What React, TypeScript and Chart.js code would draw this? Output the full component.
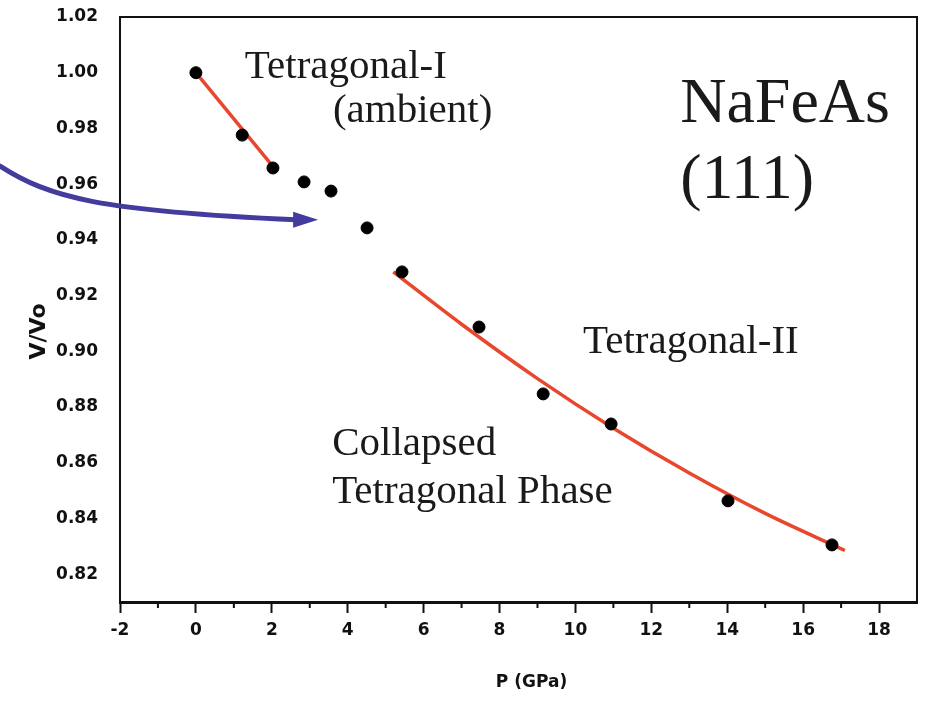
import React, { useEffect, useRef } from "react";
import { Chart, registerables } from "chart.js";
Chart.register(...registerables);

// Measured P-V points
const pressure = [0, 1.22, 2.03, 2.85, 3.56, 4.51, 5.43, 7.46, 9.15, 10.94, 14.02, 16.76];
const volume = [1.0, 0.9776, 0.9658, 0.9608, 0.9575, 0.9443, 0.9285, 0.9087, 0.8847, 0.8739, 0.8463, 0.8305];

// Fit for Tetragonal-I
const fitIP = [0, 2.0];
const fitIV = [1.0, 0.9668];

// Fit for collapsed tetragonal phase
const fitIIP = [5.2, 7, 9, 11, 13, 15, 17.1];
const fitIIV = [0.9285, 0.9097, 0.8902, 0.8724, 0.8563, 0.8418, 0.8285];

// Axis ticks
const xMajorTicks = [-2, 0, 2, 4, 6, 8, 10, 12, 14, 16, 18];
const xMinorTicks = [-1, 1, 3, 5, 7, 9, 11, 13, 15, 17];
const yTickLabels = ["0.82", "0.84", "0.86", "0.88", "0.90", "0.92", "0.94", "0.96", "0.98", "1.00", "1.02"];

// Text annotations (data coordinates, left/baseline)
const noteTexts = ["Tetragonal-I", "(ambient)", "NaFeAs", "(111)", "Tetragonal-II", "Collapsed", "Tetragonal Phase"];
const noteX = [1.29, 3.61, 12.76, 12.76, 10.2, 3.59, 3.59];
const noteY = [0.9981, 0.9823, 0.9823, 0.955, 0.8994, 0.8628, 0.8456];
const noteSize = [41, 41, 64, 64, 41, 41, 41];

// Arrow path (data coordinates): start, control1, control2, shaft end, tip
const arrowX = [-5.16, -3.85, -2.53, 2.64, 3.22];
const arrowY = [0.9665, 0.955, 0.9504, 0.9472, 0.9472];

const toXY = (xs: number[], ys: number[]) => xs.map((x, i) => ({ x, y: ys[i] }));

export default function App() {
  const ref = useRef<HTMLCanvasElement | null>(null);

  useEffect(() => {
    if (!ref.current) return;

    const decorPlugin = {
      id: "decor",
      beforeDatasetsDraw(chart: any) {
        const { ctx, chartArea, scales } = chart;
        const xs = scales.x;
        ctx.save();
        ctx.strokeStyle = "#111";
        ctx.lineWidth = 2;
        ctx.beginPath();
        ctx.moveTo(chartArea.left, chartArea.top);
        ctx.lineTo(chartArea.right, chartArea.top);
        ctx.lineTo(chartArea.right, chartArea.bottom);
        ctx.stroke();
        xMinorTicks.forEach((v) => {
          const px = xs.getPixelForValue(v);
          ctx.beginPath();
          ctx.moveTo(px, chartArea.bottom);
          ctx.lineTo(px, chartArea.bottom + 6);
          ctx.stroke();
        });
        ctx.restore();
      },
      afterDatasetsDraw(chart: any) {
        const { ctx, scales, chartArea } = chart;
        const xs = scales.x;
        const ys = scales.y;
        ctx.save();
        ctx.fillStyle = "#1a1a1a";
        ctx.textAlign = "left";
        ctx.textBaseline = "alphabetic";
        noteTexts.forEach((t, i) => {
          ctx.font = `${noteSize[i]}px "Liberation Serif", "Times New Roman", serif`;
          ctx.fillText(t, xs.getPixelForValue(noteX[i]), ys.getPixelForValue(noteY[i]));
        });
        const p = arrowX.map((x, i) => [xs.getPixelForValue(x), ys.getPixelForValue(arrowY[i])]);
        ctx.strokeStyle = "#433b9e";
        ctx.fillStyle = "#433b9e";
        ctx.lineWidth = 5;
        ctx.lineCap = "round";
        ctx.beginPath();
        ctx.moveTo(p[0][0], p[0][1]);
        ctx.bezierCurveTo(p[1][0], p[1][1], p[2][0], p[2][1], p[3][0], p[3][1]);
        ctx.stroke();
        ctx.beginPath();
        ctx.moveTo(p[4][0], p[4][1]);
        ctx.lineTo(p[3][0] - 3, p[4][1] - 8);
        ctx.lineTo(p[3][0] - 3, p[4][1] + 8);
        ctx.closePath();
        ctx.fill();
        ctx.fillStyle = "#111";
        ctx.textAlign = "center";
        ctx.textBaseline = "middle";
        ctx.font = 'bold 17px "DejaVu Sans", sans-serif';
        ctx.fillText("P (GPa)", (chartArea.left + chartArea.right) / 2 + 13, 683);
        ctx.save();
        ctx.translate(39, (chartArea.top + chartArea.bottom) / 2 + 22);
        ctx.rotate(-Math.PI / 2);
        ctx.font = 'bold 22px "DejaVu Sans", sans-serif';
        ctx.fillText("V/Vo", 0, 0);
        ctx.restore();
        ctx.restore();
      },
    };

    const chart = new Chart(ref.current, {
      type: "scatter",
      data: {
        datasets: [
          {
            label: "data",
            data: toXY(pressure, volume),
            backgroundColor: "#000",
            borderColor: "#000",
            pointRadius: 6,
            pointHoverRadius: 6,
            showLine: false,
          },
          {
            label: "fit I",
            data: toXY(fitIP, fitIV),
            showLine: true,
            borderColor: "#e8472e",
            borderWidth: 3.5,
            pointRadius: 0,
          },
          {
            label: "fit II",
            data: toXY(fitIIP, fitIIV),
            showLine: true,
            borderColor: "#e8472e",
            borderWidth: 3.5,
            pointRadius: 0,
            tension: 0.4,
            cubicInterpolationMode: "monotone",
          },
        ],
      },
      options: {
        animation: false,
        responsive: false,
        maintainAspectRatio: false,
        layout: { padding: { top: 17, right: 13, left: 0, bottom: 0 } },
        plugins: { legend: { display: false }, tooltip: { enabled: false }, title: { display: false } },
        scales: {
          x: {
            type: "linear",
            min: -2,
            max: 19,
            afterFit: (s: any) => {
              s.height = 100;
              s.paddingLeft = 0;
              s.paddingRight = 0;
            },
            afterBuildTicks: (s: any) => {
              s.ticks = xMajorTicks.map((v) => ({ value: v }));
            },
            border: { display: true, color: "#111", width: 3 },
            grid: {
              display: true,
              drawOnChartArea: false,
              drawTicks: true,
              tickLength: 11,
              tickColor: "#111",
              tickWidth: 2,
            },
            ticks: {
              color: "#111",
              padding: 7,
              maxRotation: 0,
              autoSkip: false,
              font: { family: '"DejaVu Sans", sans-serif', weight: "bold", size: 17 },
              callback: (v: any) => String(v),
            },
          },
          y: {
            type: "linear",
            min: 0.81,
            max: 1.02,
            afterFit: (s: any) => {
              s.width = 120;
              s.paddingTop = 0;
              s.paddingBottom = 0;
            },
            afterBuildTicks: (s: any) => {
              s.ticks = yTickLabels.map((l) => ({ value: parseFloat(l) }));
            },
            border: { display: true, color: "#111", width: 2 },
            grid: { display: false },
            ticks: {
              color: "#111",
              padding: 14,
              autoSkip: false,
              font: { family: '"DejaVu Sans", sans-serif', weight: "bold", size: 17 },
              callback: (v: any) => Number(v).toFixed(2),
            },
          },
        },
      },
      plugins: [decorPlugin],
    } as any);

    return () => chart.destroy();
  }, []);

  return (
    <div style={{ position: "fixed", left: 0, top: 0, width: 930, height: 702, background: "#fff" }}>
      <canvas ref={ref} width={930} height={702} style={{ width: 930, height: 702, display: "block" }} />
    </div>
  );
}
